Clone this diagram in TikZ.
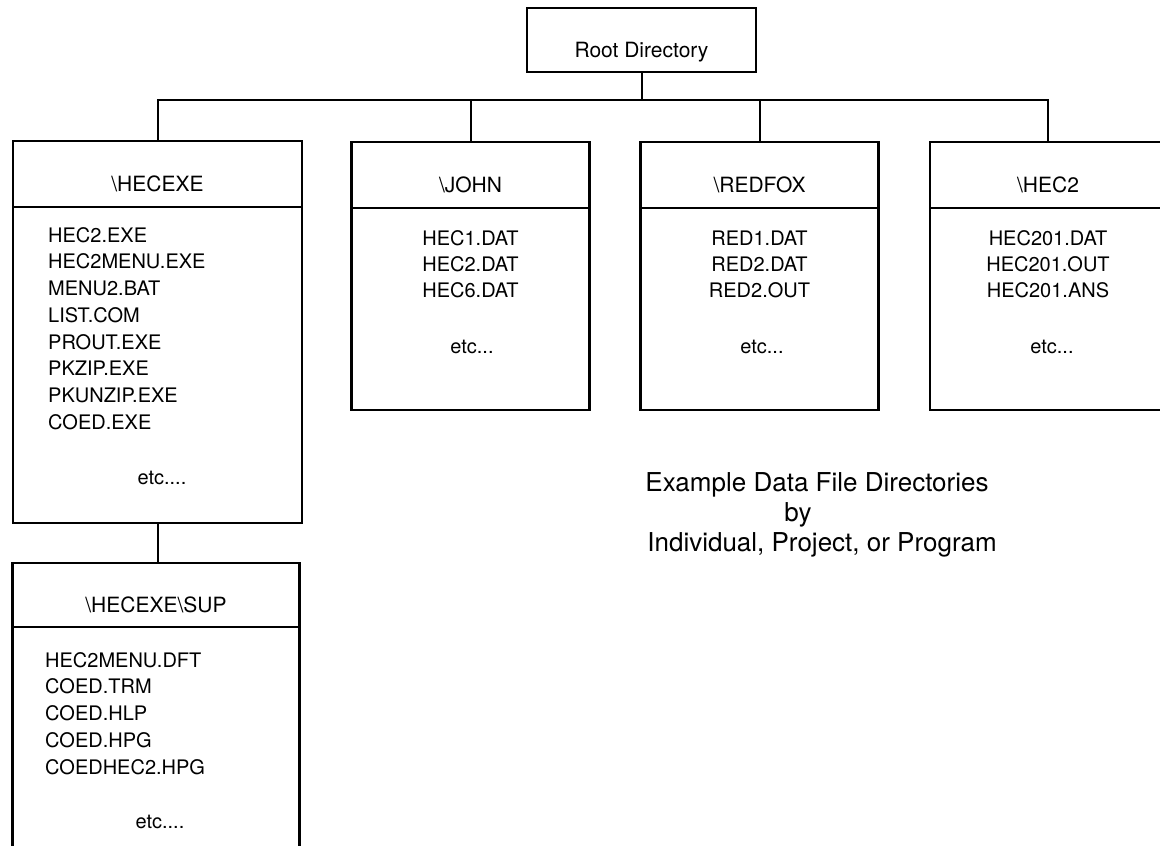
\documentclass[tikz,border=0pt]{standalone}
\usepackage{fontspec}
\setmainfont{TeX Gyre Heros}
\usetikzlibrary{positioning}

\begin{document}
\begin{tikzpicture}[
    x=1pt, y=-1pt,
    dirhead/.style={draw, line width=2.6pt, minimum height=66pt, inner sep=0pt, outer sep=0pt,
        font=\fontsize{21}{25}\selectfont, text height=35pt, text depth=0pt},
    dirbody/.style={draw, line width=2.6pt, inner sep=0pt, outer sep=0pt},
    fileitem/.style={inner sep=0pt, font=\fontsize{20}{24}\selectfont},
    wire/.style={line width=2pt},
    caption/.style={inner sep=0pt, font=\fontsize{26}{30}\selectfont}
  ]
  \useasboundingbox (0,0) rectangle (1160,846);
  \clip (0,0) rectangle (1160,846);

  % root
  \node[dirhead, minimum width=229pt, minimum height=64pt] (root) at (641.5,40) {Root Directory};

  % directories
  \node[dirhead, minimum width=289pt] (hecexe) at (157.5,174) {\textbackslash HECEXE};
  \node[dirbody, minimum width=289pt, minimum height=316pt, below=0pt of hecexe] (hecexebody) {};

  \node[dirhead, minimum width=238pt] (john) at (470.5,175) {\textbackslash JOHN};
  \node[dirbody, minimum width=238pt, minimum height=202pt, below=0pt of john] (johnbody) {};

  \node[dirhead, minimum width=238pt] (redfox) at (759.5,175) {\textbackslash REDFOX};
  \node[dirbody, minimum width=238pt, minimum height=202pt, below=0pt of redfox] (redfoxbody) {};

  \node[dirhead, minimum width=236pt] (hectwo) at (1048,175) {\textbackslash HEC2};
  \node[dirbody, minimum width=236pt, minimum height=202pt, below=0pt of hectwo] (hectwobody) {};

  \node[dirhead, minimum width=287pt, minimum height=64pt] (sup) at (156,595) {\textbackslash HECEXE\textbackslash SUP};
  \node[dirbody, minimum width=287pt, minimum height=330pt, below=0pt of sup] (supbody) {};

  % files
  \foreach \f [count=\i from 0] in {HEC2.EXE, HEC2MENU.EXE, MENU2.BAT, LIST.COM,
      PROUT.EXE, PKZIP.EXE, PKUNZIP.EXE, COED.EXE}
    \node[fileitem, anchor=west] (hx\i) at (48,{235+26.7*\i}) {\f};
  \node[fileitem] (hxetc) at (162,478) {etc....};

  \foreach \f [count=\i from 0] in {HEC1.DAT, HEC2.DAT, HEC6.DAT}
    \node[fileitem] (jn\i) at (470.5,{238+26*\i}) {\f};
  \node[fileitem] (jnetc) at (472,347) {etc...};

  \foreach \f [count=\i from 0] in {RED1.DAT, RED2.DAT, RED2.OUT}
    \node[fileitem] (rf\i) at (759.5,{238+26*\i}) {\f};
  \node[fileitem] (rfetc) at (762,347) {etc...};

  \foreach \f [count=\i from 0] in {HEC201.DAT, HEC201.OUT, HEC201.ANS}
    \node[fileitem] (ht\i) at (1048,{238+26*\i}) {\f};
  \node[fileitem] (htetc) at (1052,347) {etc...};

  \foreach \f [count=\i from 0] in {HEC2MENU.DFT, COED.TRM, COED.HLP, COED.HPG, COEDHEC2.HPG}
    \node[fileitem, anchor=west] (sp\i) at (45,{660+26.7*\i}) {\f};
  \node[fileitem] (spetc) at (160,822) {etc....};

  % caption
  \node[caption] (captop) at (817,485) {Example Data File Directories};
  \node[caption] (capmid) at (798,515) {by};
  \node[caption] (capbot) at (822,545) {Individual, Project, or Program};

  % tree lines
  \coordinate (bus) at (641.5,100);
  \draw[wire] (root.south) -- (bus);
  \draw[wire] (hecexe.north) |- (bus) -| (hectwo.north);
  \draw[wire] (john.north) -- (john.north |- bus);
  \draw[wire] (redfox.north) -- (redfox.north |- bus);
  \draw[wire] (hecexebody.south) -- (hecexebody.south |- sup.north);
\end{tikzpicture}
\end{document}
